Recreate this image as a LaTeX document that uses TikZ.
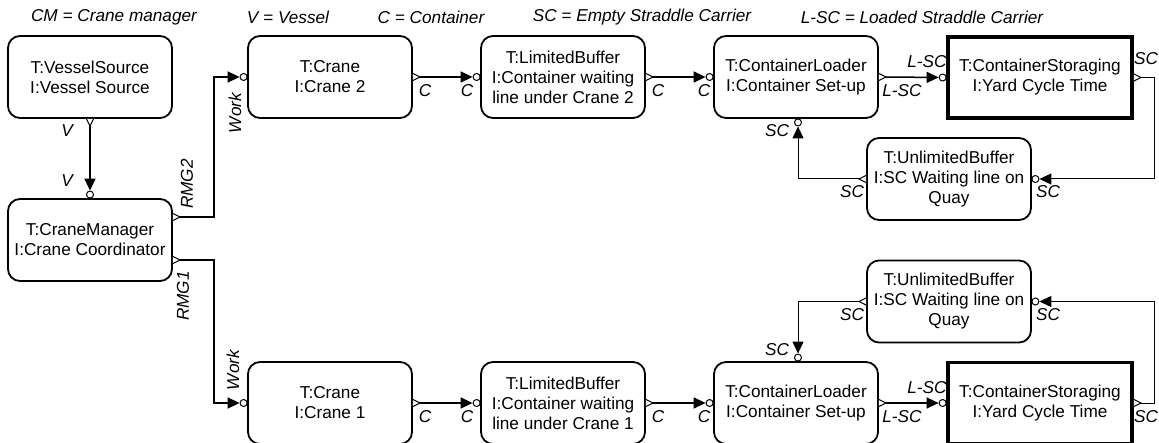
\documentclass[tikz,border=0pt]{standalone}
\usepackage{fontspec}
\setmainfont{Liberation Sans}
\usetikzlibrary{arrows.meta}
\tikzset{
	proc/.style={draw,line width=1.8pt,rounded corners=12pt,minimum width=164pt,minimum height=82pt,
		align=center,inner sep=0pt,font=\fontsize{17.2}{20}\selectfont},
	yard/.style={proc,rounded corners=0pt,line width=3.8pt,minimum width=184pt,minimum height=81pt},
	lbl/.style={inner sep=0pt,font=\fontsize{17.2}{20}\selectfont\itshape},
	inport/.style={circle,draw,fill=white,line width=1pt,inner sep=0pt,minimum size=7pt},
	flow/.style={line width=1.5pt,-{Triangle[length=12pt,width=11pt]}},
	back/.style={flow,line width=1pt},
	outport/.pic={
		\draw[line width=1pt,fill=white] (0,3.5) -- (7,0) -- (0,-3.5);
		\coordinate (-tip) at (7,0);
	}
}
\begin{document}
\begin{tikzpicture}[x=1pt,y=-1pt]
	\useasboundingbox (0,0) rectangle (1159,443);
	% legend
	\node[lbl] at (114,17) {CM = Crane manager};
	\node[lbl] at (288,17) {V = Vessel};
	\node[lbl] at (431,17) {C = Container};
	\node[lbl] at (642,17) {SC = Empty Straddle Carrier};
	\node[lbl] at (922,17) {L-SC = Loaded Straddle Carrier};
	% components
	\node[proc] (vsrc) at (90,77) {T:VesselSource\\I:Vessel Source};
	\node[proc] (cmgr) at (90,240) {T:CraneManager\\I:Crane Coordinator};
	\node[proc] (crane2) at (330,77) {T:Crane\\I:Crane 2};
	\node[proc] (lbuf2) at (563,77) {T:LimitedBuffer\\I:Container waiting\\line under Crane 2};
	\node[proc] (load2) at (796,77) {T:ContainerLoader\\I:Container Set-up};
	\node[yard] (stor2) at (1040,77.5) {T:ContainerStoraging\\I:Yard Cycle Time};
	\node[proc] (ubuf2) at (949,179) {T:UnlimitedBuffer\\I:SC Waiting line on\\Quay};
	\node[proc] (crane1) at (330,403) {T:Crane\\I:Crane 1};
	\node[proc] (lbuf1) at (563,403) {T:LimitedBuffer\\I:Container waiting\\line under Crane 1};
	\node[proc] (load1) at (796,403) {T:ContainerLoader\\I:Container Set-up};
	\node[yard] (stor1) at (1040,403) {T:ContainerStoraging\\I:Yard Cycle Time};
	\node[proc] (ubuf1) at (949,301.5) {T:UnlimitedBuffer\\I:SC Waiting line on\\Quay};
	% input ports
	\node[inport] (cmgri) at ([yshift=3.5pt]cmgr.north) {};
	\node[inport] (crane2i) at ([xshift=-3.5pt]crane2.west) {};
	\node[inport] (lbuf2i) at ([xshift=-3.5pt]lbuf2.west) {};
	\node[inport] (load2i) at ([xshift=-3.5pt]load2.west) {};
	\node[inport] (load2b) at ([xshift=2pt,yshift=-3.5pt]load2.south) {};
	\node[inport] (stor2i) at ([xshift=-3.5pt]stor2.west) {};
	\node[inport] (ubuf2i) at ([xshift=3.5pt]ubuf2.east) {};
	\node[inport] (crane1i) at ([xshift=-3.5pt]crane1.west) {};
	\node[inport] (lbuf1i) at ([xshift=-3.5pt]lbuf1.west) {};
	\node[inport] (load1i) at ([xshift=-3.5pt]load1.west) {};
	\node[inport] (load1t) at ([xshift=2pt,yshift=3.5pt]load1.north) {};
	\node[inport] (stor1i) at ([xshift=-3.5pt]stor1.west) {};
	\node[inport] (ubuf1i) at ([xshift=3.5pt]ubuf1.east) {};
	% output ports
	\pic[rotate=-90] (vsrco) at (vsrc.south) {outport};
	\pic (cmgro2) at ([yshift=23pt]cmgr.east) {outport};
	\pic (cmgro1) at ([yshift=-20pt]cmgr.east) {outport};
	\pic (crane2o) at (crane2.east) {outport};
	\pic (lbuf2o) at (lbuf2.east) {outport};
	\pic (load2o) at (load2.east) {outport};
	\pic (stor2o) at (stor2.east) {outport};
	\pic[rotate=180] (ubuf2o) at (ubuf2.west) {outport};
	\pic (crane1o) at (crane1.east) {outport};
	\pic (lbuf1o) at (lbuf1.east) {outport};
	\pic (load1o) at (load1.east) {outport};
	\pic (stor1o) at (stor1.east) {outport};
	\pic[rotate=180] (ubuf1o) at (ubuf1.west) {outport};
	% connectors
	\draw[flow] (vsrco-tip) -- (cmgri);
	\draw[flow] (cmgro2-tip) -- ++(34,0) |- (crane2i);
	\draw[flow] (cmgro1-tip) -- ++(34,0) |- (crane1i);
	\draw[flow] (crane2o-tip) -- (lbuf2i);
	\draw[flow] (lbuf2o-tip) -- (load2i);
	\draw[flow] (load2o-tip) -- (stor2i);
	\draw[back] (stor2o-tip) -- ++(14,0) |- (ubuf2i);
	\draw[back] (ubuf2o-tip) -| (load2b);
	\draw[flow] (crane1o-tip) -- (lbuf1i);
	\draw[flow] (lbuf1o-tip) -- (load1i);
	\draw[flow] (load1o-tip) -- (stor1i);
	\draw[back] (stor1o-tip) -- ++(14,0) |- (ubuf1i);
	\draw[back] (ubuf1o-tip) -| (load1t);
	% port labels
	\node[lbl] at (67,131) {V};
	\node[lbl] at (67,181) {V};
	\node[lbl,rotate=90] at (187,184) {RMG2};
	\node[lbl,rotate=90] at (235,113) {Work};
	\node[lbl,rotate=90] at (183,296) {RMG1};
	\node[lbl,rotate=90] at (233,370) {Work};
	\foreach \y in {91,417}{
		\node[lbl] at (425,\y) {C};
		\node[lbl] at (467,\y) {C};
		\node[lbl] at (658,\y) {C};
		\node[lbl] at (704,\y) {C};
		\node[lbl] at (902,\y) {L-SC};
	}
	\node[lbl] at (927,62) {L-SC};
	\node[lbl] at (927,388) {L-SC};
	\node[lbl] at (1146,59) {SC};
	\node[lbl] at (1146,417) {SC};
	\node[lbl] at (852,192) {SC};
	\node[lbl] at (1048,192) {SC};
	\node[lbl] at (777,131) {SC};
	\node[lbl] at (852,315) {SC};
	\node[lbl] at (1048,315) {SC};
	\node[lbl] at (777,350) {SC};
\end{tikzpicture}
\end{document}
